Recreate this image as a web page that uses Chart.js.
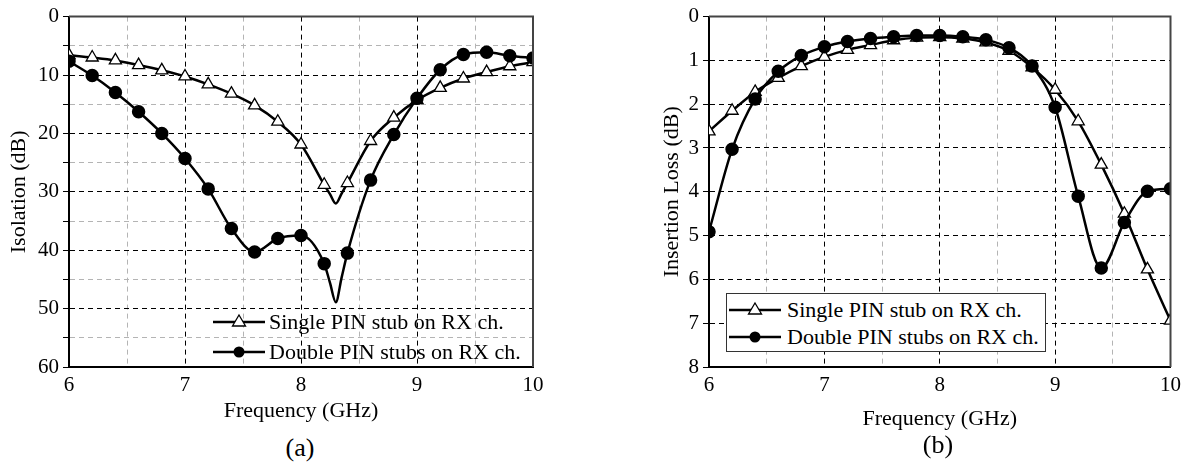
<!DOCTYPE html>
<html>
<head>
<meta charset="utf-8">
<script src="https://cdn.jsdelivr.net/npm/chart.js@4.4.0/dist/chart.umd.min.js"></script>
<style>
  body { margin: 0; background: #fff; width: 1187px; height: 467px; overflow: hidden; position: relative; font-family: "Liberation Serif", "Times New Roman", serif; }
  .box { position: absolute; }
  .cap { position: absolute; font-size: 26px; transform: translate(-50%, -50%); white-space: nowrap; }
  .leg { position: absolute; font-size: 22px; white-space: nowrap; }
  .leg svg { position: absolute; left: 0; top: 0; }
  .leg span { position: absolute; top: 0; line-height: 26px; }
</style>
</head>
<body>
<div class="box" style="left:0;top:0;width:560px;height:430px"><canvas id="chartA"></canvas></div>
<div class="box" style="left:620px;top:0;width:567px;height:440px"><canvas id="chartB"></canvas></div>

<div class="leg" style="left:211px;top:309px;width:330px;height:58px">
  <svg width="60" height="58">
    <line x1="2" y1="13" x2="54" y2="13" stroke="#000" stroke-width="2.5"/>
    <polygon points="28,6 34.5,17 21.5,17" fill="#fff" stroke="#000" stroke-width="1.3"/>
    <line x1="2" y1="43" x2="54" y2="43" stroke="#000" stroke-width="2.5"/>
    <circle cx="28" cy="43" r="5.5" fill="#000"/>
  </svg>
  <span style="left:58px;top:0">Single PIN stub on RX ch.</span>
  <span style="left:58px;top:30px">Double PIN stubs on RX ch.</span>
</div>

<div class="leg" style="left:726px;top:293px;width:318px;height:57px;border:1.5px solid #333;background:#fff">
  <svg width="60" height="57">
    <line x1="2" y1="16" x2="54" y2="16" stroke="#000" stroke-width="2.5"/>
    <polygon points="28,9 34.5,20 21.5,20" fill="#fff" stroke="#000" stroke-width="1.3"/>
    <line x1="2" y1="43" x2="54" y2="43" stroke="#000" stroke-width="2.5"/>
    <circle cx="28" cy="43" r="5.5" fill="#000"/>
  </svg>
  <span style="left:60px;top:3px">Single PIN stub on RX ch.</span>
  <span style="left:60px;top:30px">Double PIN stubs on RX ch.</span>
</div>

<div class="cap" style="left:300px;top:448px">(a)</div>
<div class="cap" style="left:938px;top:445px">(b)</div>

<script>
// (a) isolation
const freqA = [6, 6.2, 6.4, 6.6, 6.8, 7, 7.2, 7.4, 7.6, 7.8, 8, 8.2, 8.25, 8.3, 8.35, 8.4, 8.6, 8.8, 9, 9.2, 9.4, 9.6, 9.8, 10];
const isoSingle = [6.6, 7.0, 7.5, 8.3, 9.2, 10.25, 11.6, 13.2, 15.2, 18.0, 21.9, 28.8, 30.4, 32.0, 30.3, 28.5, 21.3, 17.3, 14.3, 12.2, 10.6, 9.5, 8.5, 7.8];
const isoDouble = [7.65, 10.1, 13.0, 16.3, 20.0, 24.3, 29.5, 36.3, 40.3, 38.0, 37.5, 42.3, 45.6, 48.9, 44.7, 40.5, 28.0, 20.2, 14.0, 9.1, 6.5, 6.1, 6.7, 7.1];

// (b) insertion loss
const freqB = [6, 6.2, 6.4, 6.6, 6.8, 7, 7.2, 7.4, 7.6, 7.8, 8, 8.2, 8.4, 8.6, 8.8, 9, 9.2, 9.4, 9.6, 9.8, 10];
const ilSingle = [2.62, 2.15, 1.72, 1.40, 1.13, 0.92, 0.76, 0.65, 0.54, 0.48, 0.47, 0.50, 0.59, 0.78, 1.16, 1.67, 2.39, 3.38, 4.50, 5.77, 6.94];
const ilDouble = [4.91, 3.03, 1.88, 1.25, 0.89, 0.69, 0.57, 0.50, 0.46, 0.43, 0.43, 0.46, 0.53, 0.71, 1.13, 2.07, 4.10, 5.74, 4.70, 3.99, 3.93];

const serif = '"Liberation Serif", "Times New Roman", serif';

function pts(xs, ys) {
    return xs.map(function (x, i) { return { x: x, y: ys[i] }; });
}

// markers only every 0.2 GHz
function marked(x) {
    return Math.abs(x * 5 - Math.round(x * 5)) < 1e-6;
}

const frame = {
    id: 'frame',
    afterDatasetsDraw(chart) {
        const a = chart.chartArea, ctx = chart.ctx;
        ctx.save();
        ctx.strokeStyle = '#444';
        ctx.lineWidth = 2;
        ctx.beginPath();
        ctx.moveTo(a.left, a.top);
        ctx.lineTo(a.right, a.top);
        ctx.lineTo(a.right, a.bottom);
        ctx.stroke();
        ctx.restore();
    }
};

function makeChart(id, single, dbl, yTitle, ymax, ystep, ymajor, yWidth, yTitlePad, xHeight, xTitlePad, rightPad) {
    const sets = [
        {
            data: dbl,
            borderColor: '#000',
            borderWidth: 2.5,
            pointStyle: 'circle',
            pointBackgroundColor: '#000',
            pointBorderColor: '#000',
            pointRadius: function (c) { return marked(c.raw.x) ? 5.5 : 0; },
            cubicInterpolationMode: 'monotone',
            clip: 0
        },
        {
            data: single,
            borderColor: '#000',
            borderWidth: 2.5,
            pointStyle: 'triangle',
            pointBackgroundColor: '#fff',
            pointBorderColor: '#000',
            pointBorderWidth: 1.3,
            pointRadius: function (c) { return marked(c.raw.x) ? 7 : 0; },
            cubicInterpolationMode: 'monotone',
            clip: 0
        }
    ];
    return new Chart(document.getElementById(id), {
        type: 'line',
        data: { datasets: sets },
        plugins: [frame],
        options: {
            responsive: true,
            maintainAspectRatio: false,
            animation: false,
            layout: { padding: { top: 12, right: rightPad, left: 0, bottom: 0 } },
            plugins: { legend: { display: false }, tooltip: { enabled: false } },
            scales: {
                x: {
                    type: 'linear',
                    min: 6, max: 10,
                    afterFit: function (s) { s.height = xHeight; },
                    ticks: {
                        stepSize: 0.5,
                        color: '#000',
                        padding: 6,
                        maxRotation: 0,
                        font: { family: serif, size: 21 },
                        callback: function (v) { return Number.isInteger(v) ? String(v) : ''; }
                    },
                    grid: {
                        drawTicks: false,
                        color: function (c) {
                            const v = c.tick.value;
                            if (v === 6 || v === 10) return 'rgba(0,0,0,0)';
                            return Number.isInteger(v) ? '#000' : '#b4b4b4';
                        }
                    },
                    border: { display: true, color: '#000', width: 2, dash: [5, 4] },
                    title: {
                        display: true,
                        text: 'Frequency (GHz)',
                        color: '#000',
                        font: { family: serif, size: 22 },
                        padding: { top: 0, bottom: xTitlePad }
                    }
                },
                y: {
                    type: 'linear',
                    min: 0, max: ymax,
                    reverse: true,
                    afterFit: function (s) { s.width = yWidth; },
                    ticks: {
                        stepSize: ystep,
                        color: '#000',
                        padding: 4,
                        font: { family: serif, size: 21 },
                        callback: function (v) {
                            return Math.abs(v / ymajor - Math.round(v / ymajor)) < 1e-6 ? String(v) : '';
                        }
                    },
                    grid: {
                        tickLength: 6,
                        tickColor: '#000',
                        color: function (c) {
                            const v = c.tick.value;
                            if (v === 0 || v === ymax) return 'rgba(0,0,0,0)';
                            return Math.abs(v / ymajor - Math.round(v / ymajor)) < 1e-6 ? '#000' : '#b4b4b4';
                        }
                    },
                    border: { display: true, color: '#000', width: 2, dash: [5, 4] },
                    title: {
                        display: true,
                        text: yTitle,
                        color: '#000',
                        font: { family: serif, size: 22 },
                        padding: { top: yTitlePad, bottom: 0 }
                    }
                }
            }
        }
    });
}

makeChart('chartA', pts(freqA, isoSingle), pts(freqA, isoDouble), 'Isolation (dB)', 60, 5, 10, 69, 6, 63, 6, 27);
makeChart('chartB', pts(freqB, ilSingle), pts(freqB, ilDouble), 'Insertion Loss (dB)', 8, 0.5, 1, 89, 39, 73, 8, 14);
</script>
</body>
</html>
